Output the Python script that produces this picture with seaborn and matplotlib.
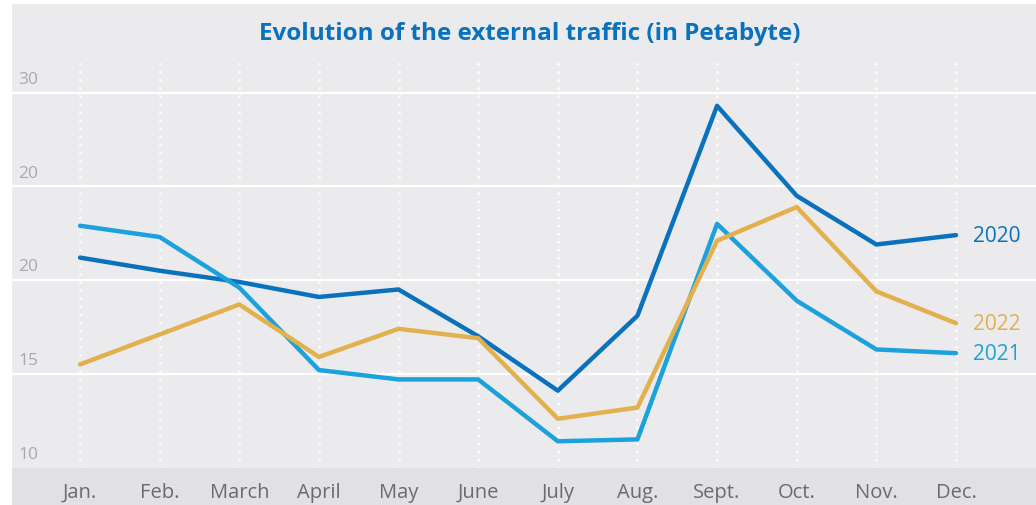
import matplotlib
matplotlib.use("Agg")
import matplotlib.pyplot as plt
from matplotlib.patches import Rectangle
from matplotlib.transforms import blended_transform_factory
import seaborn as sns
import pandas as pd

months = ["Jan.", "Feb.", "March", "April", "May", "June", "July", "Aug.",
          "Sept.", "Oct.", "Nov.", "Dec."]
traffic_2020 = [21.2, 20.5, 19.9, 19.1, 19.5, 17.0, 14.1, 18.1, 29.3, 24.5, 21.9, 22.4]
traffic_2021 = [22.9, 22.3, 19.6, 15.2, 14.7, 14.7, 11.4, 11.5, 23.0, 18.9, 16.3, 16.1]
traffic_2022 = [15.5, 17.1, 18.7, 15.9, 17.4, 16.9, 12.6, 13.2, 22.1, 23.9, 19.4, 17.7]
ytick_values = [10, 15, 20, 25, 30]
ytick_labels = ["10", "15", "20", "20", "30"]
title = "Evolution of the external traffic (in Petabyte)"

series = {"2020": traffic_2020, "2021": traffic_2021, "2022": traffic_2022}
colors = {"2020": "#0a72bd", "2021": "#1ba1dc", "2022": "#e2b04c"}

rows = []
for year, vals in series.items():
    for i, v in enumerate(vals):
        rows.append({"month": i, "value": v, "year": year})
df = pd.DataFrame(rows)

sns.set_theme(style="white")
plt.rcParams["font.family"] = ["Open Sans", "DejaVu Sans"]

W, H = 1036, 506
fig = plt.figure(figsize=(W / 100, H / 100), dpi=100, facecolor="white")
# background panel
fig.patches.append(Rectangle((12 / W, 0), 1 - 12 / W, (H - 5) / H,
                             transform=fig.transFigure, facecolor="#ebebee",
                             edgecolor="none", zorder=-2))
fig.patches.append(Rectangle((12 / W, 0), 1 - 12 / W, (H - 469) / H,
                             transform=fig.transFigure, facecolor="#e1e1e4",
                             edgecolor="none", zorder=-1))

ax = fig.add_axes([12 / W, (H - 468.5) / H, (W - 12) / W, (468.5 - 62) / H])
ax.set_facecolor("none")
ax.set_zorder(2)

per5 = 93.7
top_val = 10 + (468.5 - 62) / (per5 / 5)
ax.set_ylim(10, top_val)
ax.set_xlim(-(80 - 12) / 79.6, 11 + (1036 - 956) / 79.6)

for v in ytick_values[1:]:
    ax.axhline(v, color="white", lw=1.6, zorder=1)
for i in range(len(months)):
    ax.axvline(i, color="white", lw=2.0, linestyle=(0, (0.01, 2.9)),
               dash_capstyle="round", alpha=0.95, zorder=1)

sns.lineplot(data=df, x="month", y="value", hue="year", palette=colors,
             hue_order=["2020", "2021", "2022"], lw=3.2, ax=ax, legend=False,
             zorder=3)
for ln in ax.lines:
    if ln.get_linestyle() == "-":
        ln.set_solid_capstyle("round")
        ln.set_solid_joinstyle("round")

ax.set_xticks(range(len(months)))
ax.set_xticklabels(months, fontsize=14.5, color="#6b6b6e")
ax.tick_params(axis="x", length=0, pad=10.5)
ax.set_yticks([])
ax.set_xlabel("")
ax.set_ylabel("")
for s in ax.spines.values():
    s.set_visible(False)

trans = blended_transform_factory(ax.transAxes, ax.transData)
for v, lab in zip(ytick_values, ytick_labels):
    ax.text(6 / (W - 12), v + 0.3, lab, transform=trans, ha="left",
            va="bottom", fontsize=12.5, color="#a9a9ac")

ax.text(11.22, traffic_2020[-1], "2020", color=colors["2020"], fontsize=15,
        va="center", ha="left")
ax.text(11.22, traffic_2022[-1], "2022", color=colors["2022"], fontsize=15,
        va="center", ha="left")
ax.text(11.22, traffic_2021[-1], "2021", color=colors["2021"], fontsize=15,
        va="center", ha="left")

fig.text(530 / W, 1 - 34 / H, title, ha="center", va="center", fontsize=17.5,
         fontweight="bold", color="#0a72bd")

fig.savefig("out.png", dpi=100, facecolor="white")
